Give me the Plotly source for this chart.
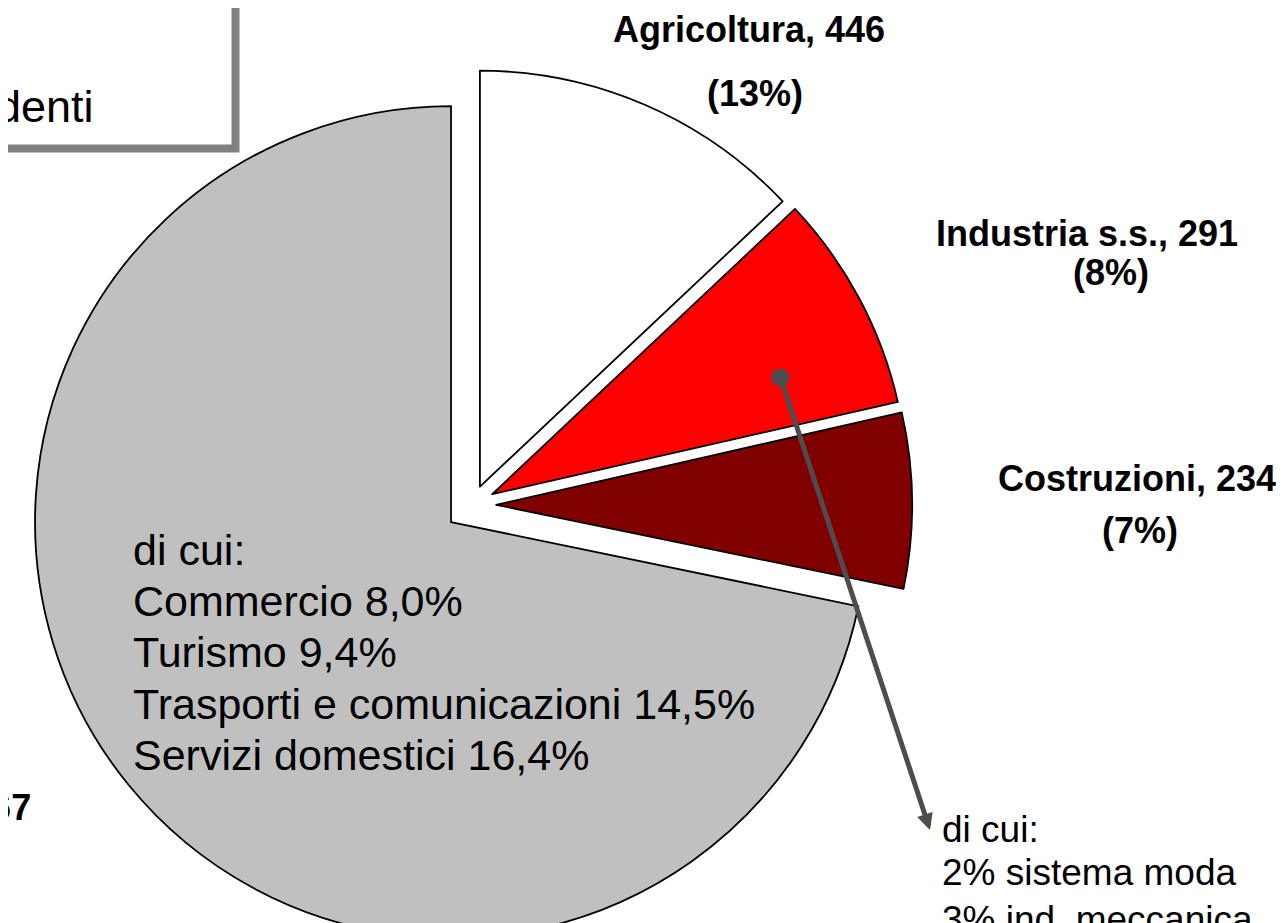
import plotly.graph_objects as go

# ---------------- data ----------------
categories = ["Agricoltura", "Industria s.s.", "Costruzioni", "Servizi"]
values = [446, 291, 234, 2467]
slice_colors = ["#FFFFFF", "#FF0000", "#800000", "#C0C0C0"]
pulls = [0.048, 0.055, 0.058, 0.065]

servizi_detail = ["di cui:", "Commercio 8,0%", "Turismo 9,4%",
                  "Trasporti e comunicazioni 14,5%", "Servizi domestici 16,4%"]
industria_detail = ["di cui:", "2% sistema moda", "3% ind. meccanica"]
title_fragment = "denti"

# ---------------- layout helpers ----------------
FW, FH = 1284, 945      # figure size (bottom part falls outside the window)
OFF = 8                 # page body margin
total = sum(values)
pcts = [round(v / total * 100) for v in values]


def px(x, y):
    """window pixel -> paper fraction"""
    return (x - OFF) / FW, 1 - (y - OFF) / FH


# pie geometry (window pixels)
CX, CY, R = 472, 505, 416
half = R * (1 + max(pulls))
cxf, cyf = CX - OFF, CY - OFF
dom_x = [(cxf - half) / FW, (cxf + half) / FW]
dom_y = [max(0.0, 1 - (cyf + half) / FH), 1 - (cyf - half) / FH]

fig = go.Figure()
fig.add_trace(go.Pie(
    labels=categories,
    values=values,
    sort=False,
    direction="clockwise",
    rotation=0,
    pull=pulls,
    marker=dict(colors=slice_colors, line=dict(color="#000000", width=1.8)),
    textinfo="none",
    hoverinfo="label+value+percent",
    showlegend=False,
    domain=dict(x=dom_x, y=dom_y),
))

annotations = []

# bold category labels: (name line centre x, y, pct line centre x, y)
label_pos = [
    (749, 29, 755, 94),
    (1087, 233, 1111, 272),
    (1137, 478, 1140, 530),
]
bold_font = dict(family="Liberation Sans, Arial, sans-serif", size=36, color="#000000")
for i, (x1, y1, x2, y2) in enumerate(label_pos):
    xa, ya = px(x1, y1)
    annotations.append(dict(x=xa, y=ya, xref="paper", yref="paper",
                            text=f"<b>{categories[i]}, {values[i]}</b>",
                            showarrow=False, xanchor="center", yanchor="middle",
                            font=bold_font))
    xa, ya = px(x2, y2)
    annotations.append(dict(x=xa, y=ya, xref="paper", yref="paper",
                            text=f"<b>({pcts[i]}%)</b>",
                            showarrow=False, xanchor="center", yanchor="middle",
                            font=bold_font))

# services label, mostly outside the picture on the left
xa, ya = px(33, 807)
annotations.append(dict(x=xa, y=ya, xref="paper", yref="paper",
                        text=f"<b>{categories[3]}, {values[3]}</b>",
                        showarrow=False, xanchor="right", yanchor="middle",
                        font=bold_font))

# services breakdown text
serv_font = dict(family="Liberation Sans, Arial, sans-serif", size=43, color="#000000")
serv_y = [550, 601, 652, 704, 755]
for t, yy in zip(servizi_detail, serv_y):
    xa, ya = px(131, yy)
    annotations.append(dict(x=xa, y=ya, xref="paper", yref="paper", text=t,
                            showarrow=False, xanchor="left", yanchor="middle",
                            font=serv_font))

# industry breakdown text
ind_font = dict(family="Liberation Sans, Arial, sans-serif", size=37, color="#000000")
ind_y = [829, 872, 919]
for t, yy in zip(industria_detail, ind_y):
    xa, ya = px(940, yy)
    annotations.append(dict(x=xa, y=ya, xref="paper", yref="paper", text=t,
                            showarrow=False, xanchor="left", yanchor="middle",
                            font=ind_font))

# arrow from the red slice to the industry breakdown
xa, ya = px(930, 830)
annotations.append(dict(x=xa, y=ya, xref="paper", yref="paper", text="",
                        showarrow=True, ax=780 - 930, ay=376 - 830,
                        arrowcolor="#4D4D4D", arrowwidth=5,
                        arrowhead=2, arrowsize=0.65,
                        arrowside="end+start", startarrowhead=6, startarrowsize=0.9))

# title fragment in the box
xa, ya = px(96, 106)
annotations.append(dict(x=xa, y=ya, xref="paper", yref="paper", text=title_fragment,
                        showarrow=False, xanchor="right", yanchor="middle",
                        font=dict(family="Liberation Sans, Arial, sans-serif", size=45,
                                  color="#000000")))

bx0, by0 = px(-30, -30)
bx1, by1 = px(235.5, 148.5)
shapes = [dict(type="rect", xref="paper", yref="paper",
               x0=bx0, x1=bx1, y0=by1, y1=by0,
               line=dict(color="#808080", width=8), fillcolor="rgba(0,0,0,0)",
               layer="below")]

fig.update_layout(
    width=FW, height=FH,
    margin=dict(l=0, r=0, t=0, b=0),
    paper_bgcolor="#FFFFFF",
    plot_bgcolor="#FFFFFF",
    showlegend=False,
    annotations=annotations,
    shapes=shapes,
)

fig.write_html("out.html")
